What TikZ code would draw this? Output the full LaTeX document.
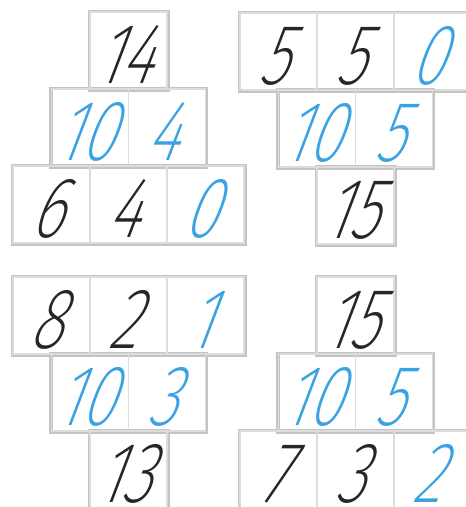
\documentclass[tikz,border=0pt]{standalone}
\usepackage{fontspec}
\usepackage{tikz}
\usetikzlibrary{backgrounds}
\def\handname{Fira Sans}
\IfFontExistsTF{Lato Light}{\def\handname{Lato Light}}{}
\IfFontExistsTF{Poppins Light}{\def\handname{Poppins Light}}{}
\IfFontExistsTF{Fira Sans Light}{\def\handname{Fira Sans Light}}{}
\IfFontExistsTF{Fira Sans ExtraLight}{\def\handname{Fira Sans ExtraLight}}{}
\newfontfamily\handfont{\handname}[FakeSlant=0.38, FakeStretch=0.72]
\definecolor{Ink}{HTML}{262626}
\definecolor{Pen}{HTML}{3BA2E2}
\definecolor{Frame}{HTML}{C4C4C4}
\definecolor{Split}{HTML}{DCDCDC}

\begin{document}
\begin{tikzpicture}[x=1pt, y=-1pt,
    cell/.style={draw=Split, line width=1.5pt, minimum width=77pt, minimum height=77pt, inner sep=0pt,
                 text height=66pt, text depth=0pt, font=\handfont\fontsize{86}{86}\selectfont\kern-12pt},
    blk/.style={cell, text=Ink},
    blu/.style={cell, text=Pen},
    rowline/.style={draw=Frame, line width=3.5pt}
]
\useasboundingbox (0,0) rectangle (466,507);

% Pyramid 1
\node[blk] (p1t) at (128.5, 50.5) {14};
\node[blu] (p1m1) at (90, 127.5) {10};
\node[blu] (p1m2) at (167, 127.5) {4};
\node[blk] (p1b1) at (51.5, 204.5) {6};
\node[blk] (p1b2) at (128.5, 204.5) {4};
\node[blu] (p1b3) at (205.5, 204.5) {0};

% Pyramid 2
\node[blk] (p2t1) at (278.5, 51.5) {5};
\node[blk] (p2t2) at (355.5, 51.5) {5};
\node[blu] (p2t3) at (432.5, 51.5) {0};
\node[blu] (p2m1) at (317, 128.5) {10};
\node[blu] (p2m2) at (394, 128.5) {5};
\node[blk] (p2b) at (355.5, 205.5) {15};

% Pyramid 3
\node[blk] (p3t1) at (51.5, 315.5) {8};
\node[blk] (p3t2) at (128.5, 315.5) {2};
\node[blu] (p3t3) at (205.5, 315.5) {1};
\node[blu] (p3m1) at (90, 392.5) {10};
\node[blu] (p3m2) at (167, 392.5) {3};
\node[blk] (p3b) at (128.5, 469.5) {13};

% Pyramid 4
\node[blk] (p4t) at (355.5, 315.5) {15};
\node[blu] (p4m1) at (317, 392.5) {10};
\node[blu] (p4m2) at (394, 392.5) {5};
\node[blk] (p4b1) at (278.5, 469.5) {7};
\node[blk] (p4b2) at (355.5, 469.5) {3};
\node[blu] (p4b3) at (432.5, 469.5) {2};

% Row frames
\begin{pgfonlayer}{background}
\draw[rowline] (p1t.north west) rectangle (p1t.south east);
\draw[rowline] (p1m1.north west) rectangle (p1m2.south east);
\draw[rowline] (p1b1.north west) rectangle (p1b3.south east);
\draw[rowline] (p2t1.north west) rectangle (p2t3.south east);
\draw[rowline] (p2m1.north west) rectangle (p2m2.south east);
\draw[rowline] (p2b.north west) rectangle (p2b.south east);
\draw[rowline] (p3t1.north west) rectangle (p3t3.south east);
\draw[rowline] (p3m1.north west) rectangle (p3m2.south east);
\draw[rowline] (p3b.north west) rectangle (p3b.south east);
\draw[rowline] (p4t.north west) rectangle (p4t.south east);
\draw[rowline] (p4m1.north west) rectangle (p4m2.south east);
\draw[rowline] (p4b1.north west) rectangle (p4b3.south east);
\end{pgfonlayer}

\end{tikzpicture}
\end{document}
